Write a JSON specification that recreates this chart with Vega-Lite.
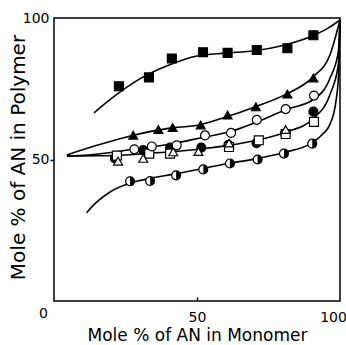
{
  "$schema": "https://vega.github.io/schema/vega-lite/v6.json",
  "width": 286,
  "height": 283,
  "autosize": {"type": "none"},
  "padding": {"left": 54, "top": 18, "right": 6, "bottom": 44},
  "background": "white",
  "config": {
    "view": {"stroke": "black", "strokeWidth": 1.5},
    "font": "DejaVu Sans",
    "axis": {"labelColor": "black", "titleColor": "black", "tickColor": "black", "domain": false, "grid": false, "titleFontWeight": "normal"}
  },
  "datasets": {
    "curves": [
      {"curve": "c1", "x": 14, "y": 66.5}, {"curve": "c1", "x": 20, "y": 71.5}, {"curve": "c1", "x": 30, "y": 78.5},
      {"curve": "c1", "x": 40, "y": 83.3}, {"curve": "c1", "x": 50, "y": 86.6}, {"curve": "c1", "x": 60, "y": 87.6},
      {"curve": "c1", "x": 70, "y": 88.4}, {"curve": "c1", "x": 80, "y": 90.3}, {"curve": "c1", "x": 90.7, "y": 93.8},
      {"curve": "c1", "x": 96, "y": 96.5}, {"curve": "c1", "x": 100, "y": 99.3},

      {"curve": "c2", "x": 4.5, "y": 51.6}, {"curve": "c2", "x": 15, "y": 55}, {"curve": "c2", "x": 27.7, "y": 58.6},
      {"curve": "c2", "x": 40, "y": 61}, {"curve": "c2", "x": 51, "y": 62.3}, {"curve": "c2", "x": 60, "y": 65},
      {"curve": "c2", "x": 70, "y": 68.5}, {"curve": "c2", "x": 81, "y": 73}, {"curve": "c2", "x": 90.7, "y": 79.3},
      {"curve": "c2", "x": 96.5, "y": 87}, {"curve": "c2", "x": 100, "y": 99.3},

      {"curve": "c3", "x": 4.5, "y": 51.2}, {"curve": "c3", "x": 12, "y": 51.6}, {"curve": "c3", "x": 20, "y": 52.5},
      {"curve": "c3", "x": 28, "y": 53.7}, {"curve": "c3", "x": 40, "y": 55.3}, {"curve": "c3", "x": 52, "y": 57.8},
      {"curve": "c3", "x": 62, "y": 60}, {"curve": "c3", "x": 71, "y": 63.3}, {"curve": "c3", "x": 81, "y": 67.6},
      {"curve": "c3", "x": 90.7, "y": 71.2}, {"curve": "c3", "x": 96.5, "y": 78.7}, {"curve": "c3", "x": 99.4, "y": 88},
      {"curve": "c3", "x": 100, "y": 99.3},

      {"curve": "c4", "x": 4.5, "y": 51.2}, {"curve": "c4", "x": 15, "y": 51.3}, {"curve": "c4", "x": 25, "y": 51.6},
      {"curve": "c4", "x": 35, "y": 52.3}, {"curve": "c4", "x": 45, "y": 53.1}, {"curve": "c4", "x": 52, "y": 53.8},
      {"curve": "c4", "x": 61, "y": 55}, {"curve": "c4", "x": 71, "y": 56.8}, {"curve": "c4", "x": 81, "y": 59.6},
      {"curve": "c4", "x": 90.7, "y": 64.5}, {"curve": "c4", "x": 96.5, "y": 73}, {"curve": "c4", "x": 99.4, "y": 83.4},
      {"curve": "c4", "x": 100, "y": 99.3},

      {"curve": "c5", "x": 11.4, "y": 31.2}, {"curve": "c5", "x": 15, "y": 35}, {"curve": "c5", "x": 20, "y": 38.8},
      {"curve": "c5", "x": 27, "y": 41.8}, {"curve": "c5", "x": 34, "y": 43.4}, {"curve": "c5", "x": 43, "y": 45},
      {"curve": "c5", "x": 52, "y": 46.8}, {"curve": "c5", "x": 61, "y": 48.6}, {"curve": "c5", "x": 71, "y": 50.3},
      {"curve": "c5", "x": 80, "y": 52.4}, {"curve": "c5", "x": 90, "y": 55.8}, {"curve": "c5", "x": 94, "y": 59},
      {"curve": "c5", "x": 96.5, "y": 62.5}, {"curve": "c5", "x": 98.5, "y": 70}, {"curve": "c5", "x": 99.5, "y": 80},
      {"curve": "c5", "x": 100, "y": 99.3}
    ],
    "points": [
      {"marker": "filled square", "x": 22.7, "y": 75.9}, {"marker": "filled square", "x": 33.2, "y": 79.0},
      {"marker": "filled square", "x": 41.2, "y": 85.7}, {"marker": "filled square", "x": 52.1, "y": 87.9},
      {"marker": "filled square", "x": 60.7, "y": 87.7}, {"marker": "filled square", "x": 70.9, "y": 88.7},
      {"marker": "filled square", "x": 81.6, "y": 89.3}, {"marker": "filled square", "x": 90.7, "y": 93.9},

      {"marker": "filled triangle", "x": 27.7, "y": 58.6}, {"marker": "filled triangle", "x": 36.5, "y": 60.6},
      {"marker": "filled triangle", "x": 41.5, "y": 61.3}, {"marker": "filled triangle", "x": 51.3, "y": 62.2},
      {"marker": "filled triangle", "x": 60.7, "y": 65.7}, {"marker": "filled triangle", "x": 70.6, "y": 68.6},
      {"marker": "filled triangle", "x": 81.6, "y": 73.1}, {"marker": "filled triangle", "x": 90.7, "y": 78.8},

      {"marker": "filled circle", "x": 21.3, "y": 50.4}, {"marker": "filled circle", "x": 31.2, "y": 53.3},
      {"marker": "filled circle", "x": 40.6, "y": 54.2}, {"marker": "filled circle", "x": 51.5, "y": 54.2},
      {"marker": "filled circle", "x": 61.0, "y": 55.2}, {"marker": "filled circle", "x": 70.8, "y": 55.8},
      {"marker": "filled circle", "x": 80.8, "y": 59.2}, {"marker": "filled circle", "x": 90.7, "y": 66.9},

      {"marker": "open square", "x": 22.0, "y": 51.4}, {"marker": "open square", "x": 33.3, "y": 52.1},
      {"marker": "open square", "x": 40.6, "y": 52.1}, {"marker": "open square", "x": 61.2, "y": 54.4},
      {"marker": "open square", "x": 71.6, "y": 56.8}, {"marker": "open square", "x": 81.0, "y": 59.0},
      {"marker": "open square", "x": 90.9, "y": 63.3},

      {"marker": "open triangle", "x": 22.4, "y": 49.4}, {"marker": "open triangle", "x": 31.2, "y": 50.4},
      {"marker": "open triangle", "x": 41.7, "y": 52.7}, {"marker": "open triangle", "x": 50.5, "y": 52.8},
      {"marker": "open triangle", "x": 61.2, "y": 55.8}, {"marker": "open triangle", "x": 81.0, "y": 60.6},

      {"marker": "open circle", "x": 28.1, "y": 53.6}, {"marker": "open circle", "x": 34.2, "y": 54.6},
      {"marker": "open circle", "x": 42.9, "y": 55.0}, {"marker": "open circle", "x": 52.8, "y": 58.5},
      {"marker": "open circle", "x": 61.9, "y": 59.4}, {"marker": "open circle", "x": 70.9, "y": 64.0},
      {"marker": "open circle", "x": 81.0, "y": 67.8}, {"marker": "open circle", "x": 90.9, "y": 72.6},

      {"marker": "half-filled circle", "x": 26.6, "y": 42.3}, {"marker": "half-filled circle", "x": 33.6, "y": 42.4},
      {"marker": "half-filled circle", "x": 42.7, "y": 44.4}, {"marker": "half-filled circle", "x": 52.2, "y": 46.5},
      {"marker": "half-filled circle", "x": 61.5, "y": 48.6}, {"marker": "half-filled circle", "x": 71.2, "y": 50.0},
      {"marker": "half-filled circle", "x": 80.4, "y": 52.1}, {"marker": "half-filled circle", "x": 90.3, "y": 55.6}
    ]
  },
  "encoding": {
    "x": {
      "field": "x", "type": "quantitative",
      "scale": {"domain": [0, 100]},
      "axis": {
        "values": [0, 50, 100],
        "title": "Mole % of AN in Monomer",
        "titleFontSize": 17,
        "titleBaseline": "alphabetic",
        "titleY": 39,
        "labelFontSize": 14,
        "labelFlush": false,
        "labelOffset": {"condition": [{"test": "datum.value == 0", "value": -11}, {"test": "datum.value == 100", "value": -7}], "value": 0},
        "labelPadding": {"condition": {"test": "datum.value == 0", "value": 9}, "value": 13},
        "tickSize": -4,
        "tickWidth": 1.5,
        "tickOpacity": {"condition": {"test": "datum.value == 50", "value": 1}, "value": 0}
      }
    },
    "y": {
      "field": "y", "type": "quantitative",
      "scale": {"domain": [0, 100]},
      "axis": {
        "values": [50, 100],
        "title": "Mole % of AN in Polymer",
        "titleFontSize": 20,
        "titleAngle": -90,
        "titleBaseline": "alphabetic",
        "titleAlign": "center",
        "titleX": -30,
        "titleY": 139,
        "labelFontSize": 14,
        "labelFlush": false,
        "labelPadding": 1,
        "tickSize": 4,
        "tickWidth": 1.5,
        "tickOpacity": {"condition": {"test": "datum.value == 50", "value": 1}, "value": 0}
      }
    }
  },
  "layer": [
    {
      "data": {"name": "curves"},
      "mark": {"type": "line", "interpolate": "monotone", "color": "black", "strokeWidth": 1.6},
      "encoding": {"detail": {"field": "curve"}}
    },
    {
      "data": {"name": "points"},
      "mark": {"type": "point", "filled": true, "stroke": "black", "strokeWidth": 1.2, "opacity": 1, "size": 80},
      "encoding": {
        "shape": {
          "field": "marker", "type": "nominal", "legend": null,
          "scale": {
            "domain": ["filled square", "filled triangle", "filled circle", "open square", "open triangle", "open circle", "half-filled circle"],
            "range": ["square", "triangle-up", "circle", "square", "triangle-up", "circle", "circle"]
          }
        },
        "fill": {
          "field": "marker", "type": "nominal", "legend": null,
          "scale": {
            "domain": ["filled square", "filled triangle", "filled circle", "open square", "open triangle", "open circle", "half-filled circle"],
            "range": ["black", "black", "black", "white", "white", "white", "white"]
          }
        }
      }
    },
    {
      "data": {"name": "points"},
      "transform": [{"filter": "datum.marker == 'half-filled circle'"}],
      "mark": {"type": "point", "filled": true, "shape": "M0,-1A1,1 0 0,1 0,1Z", "color": "black", "opacity": 1, "size": 80}
    }
  ]
}
